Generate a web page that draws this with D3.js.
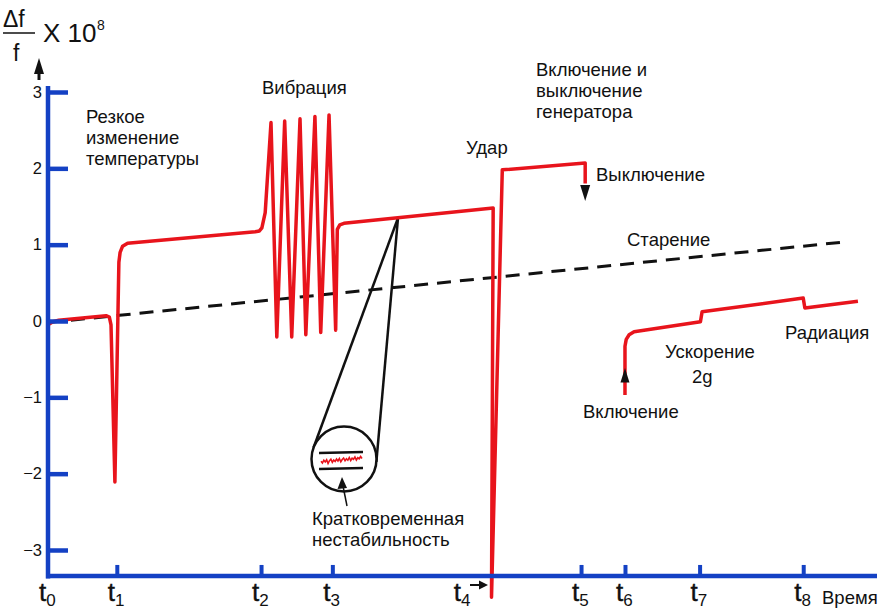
<!DOCTYPE html>
<html>
<head>
<meta charset="utf-8">
<script src="https://cdn.jsdelivr.net/npm/d3@7"></script>
<style>
  body { margin: 0; background: #fff; }
  svg text { font-family: "Liberation Sans", Arial, sans-serif; fill: #111; }
  .note { font-size: 18.5px; }
</style>
</head>
<body>
<script>
// data: time in arbitrary units (0..100), value = Δf/f x 10^8
var tNames = ["0", "1", "2", "3", "4", "5", "6", "7", "8"];
var tPos = [0, 8.3, 25.7, 34.3, 53.4, 64.3, 69.6, 78.6, 91.1];
var tHasTick = [true, true, true, true, false, true, true, true, true];
var yTicks = [3, 2, 1, 0, -1, -2, -3];

// main curve t0..t5
var mainT = [0, 0.6, 1.3, 7.0, 7.4, 7.6, 8.07, 8.55, 8.7, 9.0, 9.6, 25.0, 25.5, 25.8, 26.2, 26.9, 27.6, 28.55, 29.4, 30.4, 31.1, 32.2, 32.9, 33.9, 34.7, 34.9, 35.2, 35.7, 53.7, 53.5, 54.8, 64.8, 64.8];
var mainV = [-0.05, -0.01, 0.01, 0.07, 0.05, -0.05, -2.11, 0.77, 0.9, 0.98, 1.02, 1.17, 1.18, 1.22, 1.42, 2.6, -0.21, 2.62, -0.21, 2.65, -0.18, 2.68, -0.15, 2.7, -0.12, 1.2, 1.26, 1.28, 1.48, -3.62, 1.98, 2.07, 1.8];

// curve after switching on again (t6..)
var secondT = [69.6, 69.6, 69.75, 70.1, 70.7, 78.7, 78.9, 91.1, 91.3, 97.7];
var secondV = [-0.97, -0.33, -0.24, -0.18, -0.14, -0.01, 0.12, 0.30, 0.17, 0.26];

// aging trend
var agingT = [0, 96.5];
var agingV = [-0.02, 1.04];

// short-term noise seen in the magnifier
var noise = [0.1, -0.6, 0.5, -0.2, 0.7, -0.8, 0.3, 0.9, -0.3, 0.6, 0.0, 1.0, 0.2, 1.2, -0.1, 0.8, 1.4, 0.3, 1.1, 0.5, 1.6, 0.4, 1.3, 0.9, 1.8, 0.6, 1.5, 1.1, 2.0, 1.2];

var W = 885, H = 611;
var red = "#e8141c", blue = "#1441c4";

var svg = d3.select("body").append("svg")
    .attr("width", W)
    .attr("height", H);

var x = d3.scaleLinear().domain([0, 100]).range([48, 877]);
var y = d3.scaleLinear().domain([-3, 3]).range([550, 92]);
var floor = -3.34; // where the time axis sits

var line = d3.line()
    .x(function(d) { return x(d[0]); })
    .y(function(d) { return y(d[1]); });

var mainPts = mainT.map(function(t, i) { return [t, mainV[i]]; });
var secondPts = secondT.map(function(t, i) { return [t, secondV[i]]; });
var agingPts = agingT.map(function(t, i) { return [t, agingV[i]]; });

// aging dashed line
svg.append("path")
    .attr("d", line(agingPts))
    .attr("fill", "none")
    .attr("stroke", "#111")
    .attr("stroke-width", 3)
    .attr("stroke-dasharray", "14,9");

// magnifier lines from curve to the circle
var P = [398, 218], C = [344, 459], R = 32.5;
var dx = P[0] - C[0], dy = P[1] - C[1];
var dist = Math.sqrt(dx * dx + dy * dy);
var base = Math.atan2(dy, dx), off = Math.acos(R / dist);
[base + off, base - off].forEach(function(a) {
    svg.append("line")
        .attr("x1", P[0]).attr("y1", P[1])
        .attr("x2", C[0] + R * Math.cos(a)).attr("y2", C[1] + R * Math.sin(a))
        .attr("stroke", "#111").attr("stroke-width", 2.5);
});
svg.append("circle")
    .attr("cx", C[0]).attr("cy", C[1]).attr("r", R)
    .attr("fill", "#fff").attr("stroke", "#111").attr("stroke-width", 2.5);
svg.append("line").attr("x1", 319).attr("x2", 363).attr("y1", 453).attr("y2", 452)
    .attr("stroke", "#111").attr("stroke-width", 2.5);
svg.append("line").attr("x1", 319).attr("x2", 363).attr("y1", 469).attr("y2", 468)
    .attr("stroke", "#111").attr("stroke-width", 2.5);
var nx = d3.scaleLinear().domain([0, noise.length - 1]).range([321, 362]);
var ny = d3.scaleLinear().domain([-1, 1]).range([464, 459]);
svg.append("path")
    .attr("d", d3.line().x(function(d, i) { return nx(i); }).y(function(d) { return ny(d); })(noise))
    .attr("fill", "none").attr("stroke", red).attr("stroke-width", 1.6);

// red curves
svg.append("path")
    .attr("d", line(mainPts))
    .attr("fill", "none")
    .attr("stroke", red)
    .attr("stroke-width", 3.5)
    .attr("stroke-linejoin", "round");
svg.append("path")
    .attr("d", line(secondPts))
    .attr("fill", "none")
    .attr("stroke", red)
    .attr("stroke-width", 3.5)
    .attr("stroke-linejoin", "round");

// arrows
function arrowHead(cx, tipY, dir, size) {
    // dir: 1 = down, -1 = up
    svg.append("path")
        .attr("d", "M" + (cx - size / 2) + "," + (tipY - dir * size * 1.6) +
                   "L" + (cx + size / 2) + "," + (tipY - dir * size * 1.6) +
                   "L" + cx + "," + tipY + "Z")
        .attr("fill", "#111");
}
arrowHead(x(64.8), 201, 1, 10);      // switching off
arrowHead(x(69.6), 368, -1, 9);      // switching on
// axis arrow
svg.append("line").attr("x1", 39).attr("x2", 39).attr("y1", 80).attr("y2", 68)
    .attr("stroke", "#111").attr("stroke-width", 3);
arrowHead(39, 58, -1, 10);
// magnifier pointer
svg.append("line").attr("x1", 347).attr("y1", 506).attr("x2", 343).attr("y2", 486)
    .attr("stroke", "#111").attr("stroke-width", 1.5);
svg.append("path").attr("d", "M342,477 L337.5,489 L347,488 Z").attr("fill", "#111");
// t4 pointer
svg.append("line").attr("x1", 470).attr("x2", 481).attr("y1", 585).attr("y2", 585)
    .attr("stroke", "#111").attr("stroke-width", 2);
svg.append("path").attr("d", "M488,585 L479,580.5 L479,589.5 Z").attr("fill", "#111");

// y axis
var yAxis = d3.axisLeft(y)
    .tickValues(yTicks)
    .tickSizeInner(-20)
    .tickSizeOuter(0)
    .tickPadding(6)
    .tickFormat(d3.format("d"));
var gy = svg.append("g")
    .attr("transform", "translate(" + x(0) + ",0)")
    .call(yAxis);
gy.select(".domain").remove();
gy.selectAll(".tick line").attr("stroke", blue).attr("stroke-width", 4.5);
gy.selectAll(".tick text")
    .style("font-size", "16.5px")
    .style("font-family", "Liberation Sans, Arial, sans-serif")
    .attr("fill", "#111");
svg.append("line")
    .attr("x1", x(0)).attr("x2", x(0))
    .attr("y1", 86).attr("y2", y(floor) + 2.5)
    .attr("stroke", blue).attr("stroke-width", 4.5);

// x axis
var xAxis = d3.axisBottom(x)
    .tickValues(tPos.filter(function(d, i) { return tHasTick[i] && i > 0; }))
    .tickSizeInner(-11)
    .tickSizeOuter(0)
    .tickFormat("");
var gx = svg.append("g")
    .attr("transform", "translate(0," + y(floor) + ")")
    .call(xAxis);
gx.select(".domain").remove();
gx.selectAll(".tick line").attr("stroke", blue).attr("stroke-width", 4);
svg.append("line")
    .attr("x1", x(0) - 2).attr("x2", 877)
    .attr("y1", y(floor)).attr("y2", y(floor))
    .attr("stroke", blue).attr("stroke-width", 4.5);

// time labels
tNames.forEach(function(n, i) {
    var t = svg.append("text")
        .attr("x", x(tPos[i]) + (i == 4 ? -37 : -9))
        .attr("y", 601)
        .style("font-size", "26px")
        .style("stroke", "#111").style("stroke-width", 0.4);
    t.append("tspan").text("t");
    t.append("tspan").attr("dy", 5).style("font-size", "17px").style("stroke-width", 0).text(n);
});
svg.append("text").attr("class", "note").attr("x", 822).attr("y", 604).text("Время");

// y label
svg.append("text").attr("x", 3).attr("y", 27).style("font-size", "23px").text("Δf");
svg.append("line").attr("x1", 3).attr("x2", 35).attr("y1", 33).attr("y2", 33)
    .attr("stroke", "#111").attr("stroke-width", 1.5);
svg.append("text").attr("x", 13).attr("y", 61).style("font-size", "23px").text("f");
svg.append("text").attr("x", 43).attr("y", 42).style("font-size", "26px").text("X 10");
svg.append("text").attr("x", 97).attr("y", 30).style("font-size", "14px").text("8");

// notes
var notes = [
    ["Резкое", 86, 123], ["изменение", 86, 144], ["температуры", 86, 165],
    ["Вибрация", 262, 94],
    ["Включение и", 536, 76], ["выключение", 536, 97], ["генератора", 536, 118],
    ["Удар", 466, 154],
    ["Выключение", 596, 181],
    ["Старение", 627, 246],
    ["Ускорение", 665, 358], ["2g", 692, 383],
    ["Радиация", 785, 339],
    ["Включение", 583, 418],
    ["Кратковременная", 312, 525], ["нестабильность", 312, 546]
];
svg.selectAll("text.note.ann")
    .data(notes)
    .enter().append("text")
    .attr("class", "note ann")
    .attr("x", function(d) { return d[1]; })
    .attr("y", function(d) { return d[2]; })
    .text(function(d) { return d[0]; });
</script>
</body>
</html>
